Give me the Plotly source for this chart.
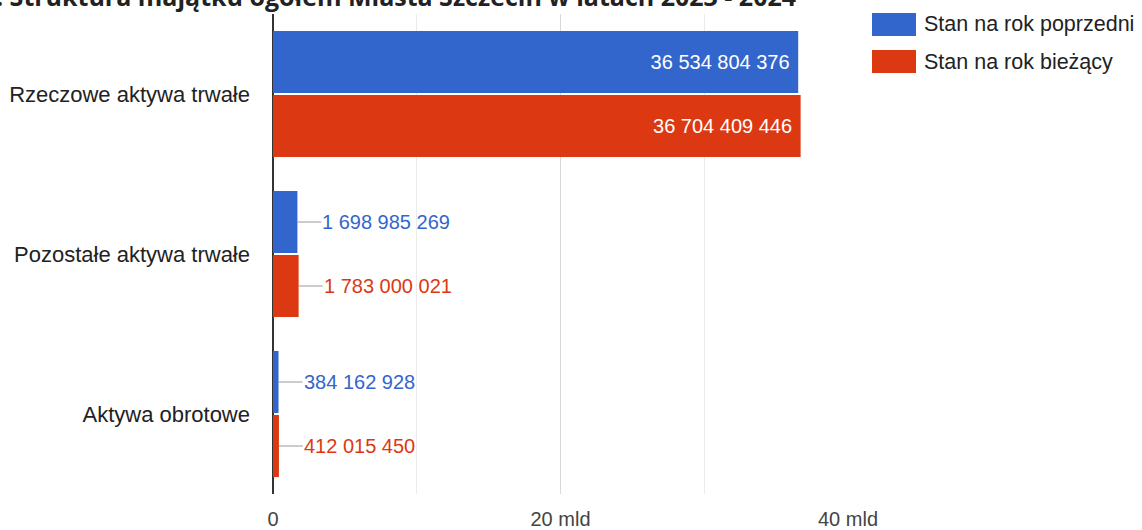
import plotly.graph_objects as go

categories = ["Rzeczowe aktywa trwałe", "Pozostałe aktywa trwałe", "Aktywa obrotowe"]
prev_values = [36534804376, 1698985269, 384162928]
curr_values = [36704409446, 1783000021, 412015450]
series_names = ["Stan na rok poprzedni", "Stan na rok bieżący"]
colors = ["#3366cc", "#dc3912"]
tick_vals = [0, 20e9, 40e9]
tick_text = ["0", "20 mld", "40 mld"]
title_text = ". Struktura majątku ogółem Miasta Szczecin w latach 2023 - 2024"

W, H = 1142, 530
L, R, T, B = 273, 294, 14, 36
PW, PH = W - L - R, H - T - B
INSIDE_MIN = 10e9
FONT = "Liberation Sans, Arial"


def fmt(v):
    return f"{v:,}".replace(",", " ")


fig = go.Figure()
annotations = []
for s, (name, vals, col) in enumerate(zip(series_names, [prev_values, curr_values], colors)):
    texts = [fmt(v) + " " if v >= INSIDE_MIN else "" for v in vals]
    fig.add_trace(go.Bar(
        y=categories, x=vals, orientation="h", name=name,
        marker=dict(color=col, line=dict(width=0)),
        text=texts, textposition="inside", insidetextanchor="end",
        textfont=dict(color="white", size=20, family=FONT),
        showlegend=False, hoverinfo="x+name",
    ))
    for i, v in enumerate(vals):
        if v < INSIDE_MIN:
            annotations.append(dict(
                x=v, y=i + (-0.2 if s == 0 else 0.2), xref="x", yref="y",
                text=fmt(v), showarrow=True, arrowhead=0, arrowwidth=1,
                arrowcolor="#999999", ax=24, ay=0, xanchor="left",
                standoff=0, borderpad=0,
                font=dict(color=col, size=20, family=FONT),
            ))

# manual legend
def px2x(px):
    return (px - L) / PW

def px2y(py):
    return (H - B - py) / PH

shapes = []
for k, (name, col) in enumerate(zip(series_names, colors)):
    y0 = 13 + k * 37
    shapes.append(dict(type="rect", xref="paper", yref="paper",
                       x0=px2x(872), x1=px2x(916), y0=px2y(y0 + 23), y1=px2y(y0),
                       fillcolor=col, line=dict(width=0)))
    annotations.append(dict(x=px2x(922), y=px2y(y0 + 11.5), xref="paper", yref="paper",
                            text=name, showarrow=False, xanchor="left", yanchor="middle",
                            font=dict(size=21.5, color="#222222", family=FONT)))

# clipped title
annotations.append(dict(x=px2x(798), y=px2y(15), xref="paper", yref="paper",
                        text="<b>" + title_text + "</b>", showarrow=False,
                        xanchor="right", yanchor="bottom",
                        font=dict(size=25, color="#222222", family="Open Sans")))

fig.update_layout(
    width=W, height=H,
    margin=dict(l=L, r=R, t=T, b=B, pad=0, autoexpand=False),
    barmode="group", bargap=0.2, bargroupgap=0.03,
    plot_bgcolor="white", paper_bgcolor="white",
    font=dict(family=FONT, size=20, color="#222222"),
    annotations=annotations, shapes=shapes,
    showlegend=False,
)
fig.update_xaxes(
    range=[0, 40e9], tickvals=tick_vals, ticktext=tick_text,
    showgrid=True, gridcolor="#d9d9d9", gridwidth=1,
    minor=dict(dtick=10e9, showgrid=True, gridcolor="#ebebeb", tick0=0),
    zeroline=True, zerolinecolor="#333333", zerolinewidth=1.5,
    tickfont=dict(size=20, color="#444444"), ticklabelstandoff=11,
    showline=False, fixedrange=True, automargin=False,
)
fig.update_yaxes(
    categoryorder="array", categoryarray=categories, autorange="reversed",
    showgrid=False, zeroline=False, showline=False,
    tickfont=dict(size=22, color="#222222"), ticklabelstandoff=22,
    fixedrange=True, automargin=False,
)

fig.write_html("out.html", config={"displayModeBar": False},
               post_script="document.body.style.margin='0';")
